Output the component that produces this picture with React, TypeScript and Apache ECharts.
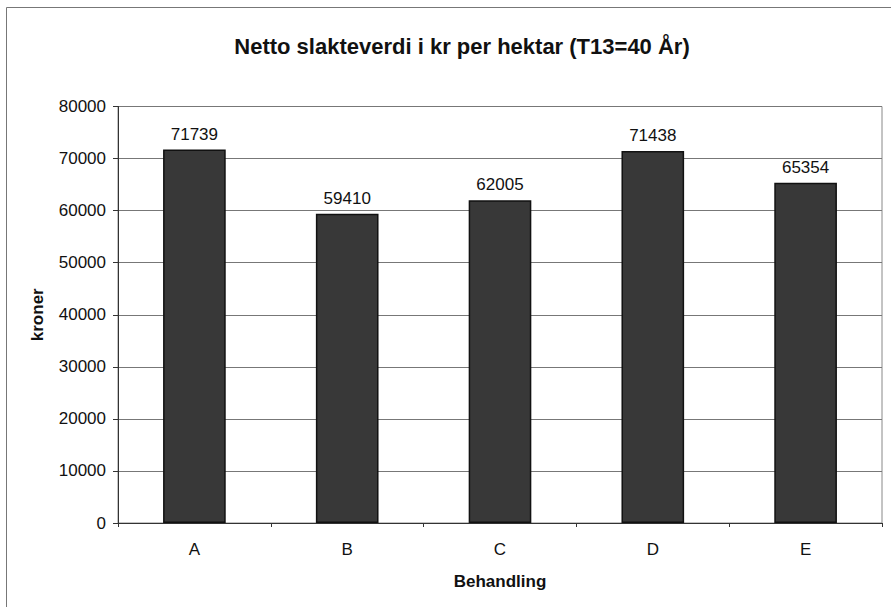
import React, { useEffect, useRef } from "react";
import * as echarts from "echarts";

const categories = ["A", "B", "C", "D", "E"];
const values = [71739, 59410, 62005, 71438, 65354];
const titleText = "Netto slakteverdi i kr per hektar (T13=40 År)";
const yName = "kroner";
const xName = "Behandling";

export default function App() {
  const ref = useRef<HTMLDivElement>(null);
  useEffect(() => {
    if (!ref.current) return;
    const chart = echarts.init(ref.current, null, { renderer: "svg" });
    const font = "Arial, 'Liberation Sans', sans-serif";
    chart.setOption({
      animation: false,
      backgroundColor: "#ffffff",
      title: {
        text: titleText,
        left: 457,
        top: 30,
        textAlign: "center",
        textStyle: { fontFamily: font, fontSize: 22, fontWeight: "bold", color: "#111" },
      },
      graphic: [
        {
          type: "rect",
          shape: { x: 6.5, y: 7.5, width: 900, height: 620 },
          style: { fill: "none", stroke: "#777", lineWidth: 1 },
          silent: true,
        },
      ],
      grid: {
        left: 118,
        top: 106.5,
        right: 9,
        bottom: 84,
        show: true,
        borderColor: "#888",
        borderWidth: 1,
      },
      xAxis: {
        type: "category",
        data: categories,
        name: xName,
        nameLocation: "middle",
        nameGap: 50,
        nameTextStyle: { fontFamily: font, fontSize: 17, fontWeight: "bold", color: "#111" },
        axisLine: { lineStyle: { color: "#333", width: 1 } },
        axisTick: { show: true, length: 4, lineStyle: { color: "#333" } },
        axisLabel: { fontFamily: font, fontSize: 17, color: "#111", margin: 18 },
      },
      yAxis: {
        type: "value",
        min: 0,
        max: 80000,
        interval: 10000,
        name: yName,
        nameLocation: "middle",
        nameGap: 72,
        nameRotate: 90,
        nameTextStyle: { fontFamily: font, fontSize: 17, fontWeight: "bold", color: "#111" },
        axisLine: { show: true, lineStyle: { color: "#333", width: 1 } },
        axisTick: { show: true, length: 5, lineStyle: { color: "#333" } },
        axisLabel: {
          fontFamily: font,
          fontSize: 17,
          color: "#111",
          margin: 12,
          formatter: (v: number) => String(v),
        },
        splitLine: { show: true, lineStyle: { color: "#777", width: 1 } },
      },
      series: [
        {
          type: "bar",
          data: values,
          barCategoryGap: "59%",
          itemStyle: { color: "#383838", borderColor: "#111", borderWidth: 1.5 },
          label: {
            show: true,
            position: "top",
            distance: 7,
            fontFamily: font,
            fontSize: 17,
            color: "#111",
          },
        },
      ],
    });
    return () => chart.dispose();
  }, []);
  return (
    <div
      ref={ref}
      style={{ position: "fixed", left: 0, top: 0, width: 891, height: 607, background: "#fff" }}
    />
  );
}
